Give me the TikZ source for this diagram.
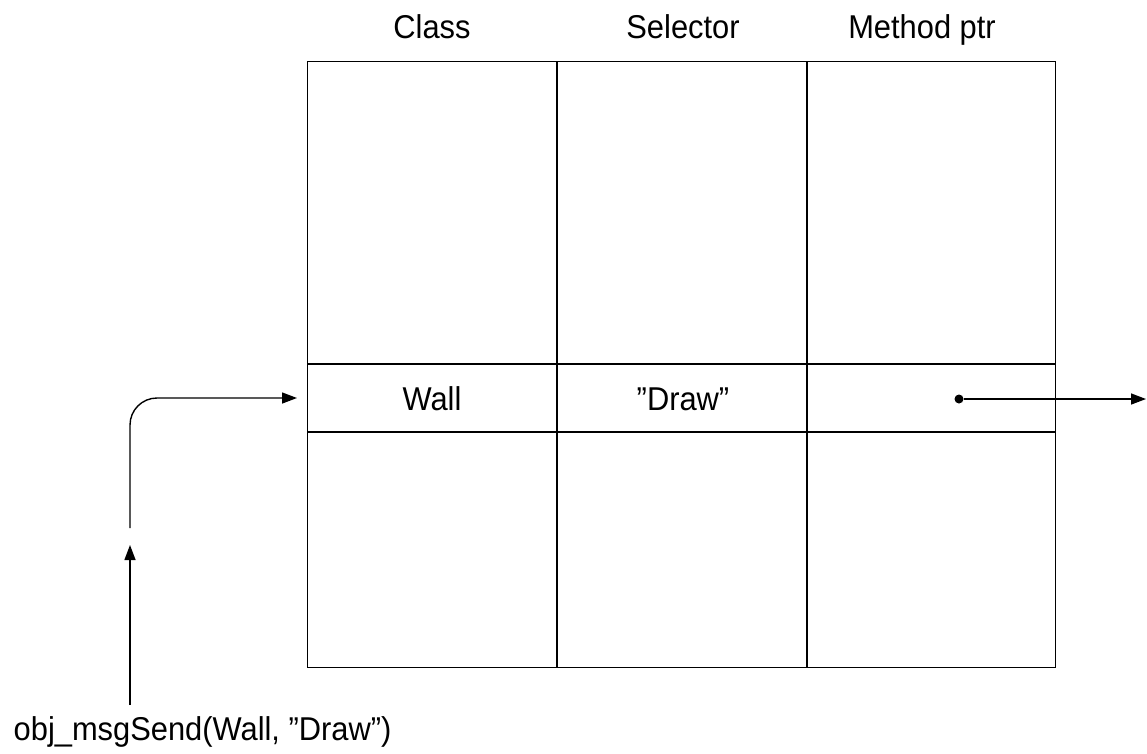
\documentclass[tikz,border=0pt]{standalone}
\usepackage{fontspec}
\setmainfont[FakeStretch=0.935]{Liberation Sans}
\usetikzlibrary{arrows.meta}
\begin{document}
\begin{tikzpicture}[x=1pt,y=-1pt, line width=1.4pt,
  lbl/.style={font=\fontsize{33}{38}\selectfont, inner sep=0pt, anchor=base},
  arr/.style={-{Triangle[length=15pt,width=11pt]}},
  cell/.style={draw, inner sep=0pt}]
\useasboundingbox (0,0) rectangle (1147,753);
% table
\node[cell, minimum width=748pt, minimum height=606pt, anchor=north west] (tbl) at (307,61) {};
\draw (557,61) -- (557,667);
\draw (807,61) -- (807,667);
\draw (307,364) -- (1055,364);
\draw (307,432) -- (1055,432);
% headers
\node[lbl] (hclass) at (432,38) {Class};
\node[lbl] (hsel) at (683,38) {Selector};
\node[lbl] (hmeth) at (922,38) {Method ptr};
% row
\node[lbl] (wall) at (432,410) {Wall};
\node[lbl] (draw) at (683,410) {”Draw”};
% pointer
\node[circle, fill, inner sep=0pt, minimum size=9pt] (dot) at (959,399) {};
\coordinate (rend) at (1146,399);
\draw[arr] (dot) -- (rend);
% message
\node[lbl, anchor=base west] (msg) at (13,740) {obj\_msgSend(Wall, ”Draw”)};
\coordinate (msgtop) at (130,705);
\coordinate (gapb) at (130,545);
\coordinate (gapt) at (130,528);
\coordinate (entry) at (297,398);
\draw[arr] (msgtop) -- (gapb);
\draw[arr, rounded corners=27pt] (gapt) |- (entry);
\end{tikzpicture}
\end{document}
